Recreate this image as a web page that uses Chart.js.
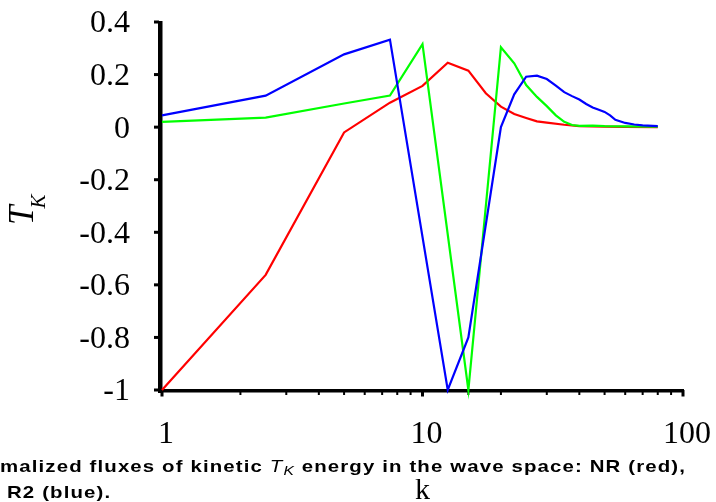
<!DOCTYPE html>
<html>
<head>
<meta charset="utf-8">
<script src="https://cdn.jsdelivr.net/npm/chart.js@4"></script>
<style>
  html, body { margin: 0; padding: 0; background: #fff; }
  canvas { display: block; }
</style>
</head>
<body>
<canvas id="canvas" width="716" height="502"></canvas>
<script>
// normalized kinetic energy flux T_K against wavenumber k, one pair of arrays per run
const redK = [1, 2.5, 5, 7.5, 10, 12.5, 15, 17.5, 20, 22.5, 25, 27.5, 30, 35, 40, 50, 60, 80];
const redT = [-1.0, -0.562, -0.02, 0.093, 0.157, 0.245, 0.215, 0.129, 0.078, 0.05, 0.035, 0.022, 0.017, 0.009, 0.004, 0.002, 0.001, 0.0];

const greenK = [1, 2.5, 5, 7.5, 10, 15, 20, 22.5, 25, 27.5, 30, 32.5, 35, 37.5, 40, 45, 50, 60, 80];
const greenT = [0.02, 0.036, 0.09, 0.12, 0.316, -1.0, 0.304, 0.243, 0.16, 0.115, 0.08, 0.045, 0.02, 0.008, 0.005, 0.006, 0.004, 0.003, 0.002];

const blueK = [1, 2.5, 5, 7.5, 12.5, 15, 20, 22.5, 25, 27.5, 30, 32.5, 35, 37.5, 40, 42.5, 45, 47.5, 50, 52.5, 55, 60, 65, 70, 80];
const blueT = [0.045, 0.12, 0.277, 0.333, -1.0, -0.8, 0.0, 0.125, 0.192, 0.196, 0.183, 0.158, 0.133, 0.118, 0.105, 0.088, 0.075, 0.066, 0.058, 0.045, 0.028, 0.016, 0.01, 0.007, 0.004];

const yTicks = [0.4, 0.2, 0, -0.2, -0.4, -0.6, -0.8, -1];
const xLabelTicks = [1, 10, 100];

const captionLine1 = ['malized fluxes of kinetic ', 'T', 'K', ' energy in the wave space: NR (red),'];
const captionLine2 = 'R2 (blue).';

const points = (ks, ts) => ks.map((k, i) => ({ x: k, y: ts[i] }));
const isDecade = v => Math.abs(Math.log10(v) - Math.round(Math.log10(v))) < 1e-9;

const serif = '"Liberation Serif", "Times New Roman", serif';
const sans = '"Liberation Sans", Arial, sans-serif';

// axis lines and tick marks, drawn under the curves
const axesPlugin = {
  id: 'axes',
  beforeDatasetsDraw(chart) {
    const { ctx, chartArea: a, scales: { x, y } } = chart;
    ctx.save();
    ctx.fillStyle = '#000';
    ctx.fillRect(a.left - 4, a.top - 1, 4.5, a.bottom - a.top + 4);
    ctx.fillRect(a.left - 4, a.bottom - 1, a.right - a.left + 5, 3.5);
    yTicks.forEach(v => {
      const py = y.getPixelForValue(v);
      ctx.fillRect(a.left - 8, py - 1.5, 5, 3);
    });
    x.ticks.forEach(t => {
      const px = x.getPixelForValue(t.value);
      if (isDecade(t.value)) ctx.fillRect(px - 1.5, a.bottom, 3, 6.5);
      else ctx.fillRect(px - 1, a.bottom, 2, 5);
    });
    ctx.restore();
  }
};

// axis titles and the caption text under the plot
const textPlugin = {
  id: 'texts',
  afterDraw(chart) {
    const { ctx, chartArea: a } = chart;
    ctx.save();
    ctx.fillStyle = '#000';
    ctx.textBaseline = 'alphabetic';
    ctx.textAlign = 'left';

    // y title T_K, rotated
    ctx.save();
    ctx.translate(33, 225);
    ctx.rotate(-Math.PI / 2);
    ctx.font = 'italic 35px ' + serif;
    ctx.fillText('T', 0, 0);
    const wT = ctx.measureText('T').width;
    ctx.font = 'italic 21px ' + serif;
    ctx.fillText('K', wT - 3, 12);
    ctx.restore();

    // x title
    ctx.font = '30px ' + serif;
    ctx.textAlign = 'center';
    ctx.fillText('k', (a.left + a.right) / 2, 499);
    ctx.textAlign = 'left';

    // caption: widened glyphs, then spread to its line width
    const hs = 1.2;
    const fonts = ['bold 17px ' + sans, 'italic 17px ' + sans, 'italic 13px ' + sans, 'bold 17px ' + sans];
    const shifts = [0, 0, 3, 0];
    let natural = 0, count = 0;
    captionLine1.forEach((s, i) => {
      ctx.font = fonts[i];
      natural += ctx.measureText(s).width * hs;
      count += s.length;
    });
    const sp = (686 - natural) / count;
    const put = (ch, px, py) => {
      ctx.save();
      ctx.translate(px, py);
      ctx.scale(hs, 1);
      ctx.fillText(ch, 0, 0);
      ctx.restore();
      return ctx.measureText(ch).width * hs + sp;
    };
    let cx = 0;
    captionLine1.forEach((s, i) => {
      ctx.font = fonts[i];
      for (const ch of s) cx += put(ch, cx, 472 + shifts[i]);
    });
    ctx.font = fonts[0];
    cx = 7;
    for (const ch of captionLine2) cx += put(ch, cx, 498);
    ctx.restore();
  }
};

const ctx = document.getElementById('canvas').getContext('2d');
new Chart(ctx, {
  type: 'line',
  data: {
    datasets: [
      { label: 'R2', data: points(blueK, blueT), borderColor: '#0000ff' },
      { label: 'R1', data: points(greenK, greenT), borderColor: '#00ff00' },
      { label: 'NR', data: points(redK, redT), borderColor: '#ff0000' }
    ]
  },
  options: {
    responsive: false,
    animation: false,
    datasets: {
      line: { borderWidth: 2.2, pointRadius: 0, tension: 0, fill: false, clip: false, borderJoinStyle: 'miter' }
    },
    layout: { padding: { top: 22, right: 33, left: 0, bottom: 0 } },
    plugins: { legend: { display: false }, tooltip: { enabled: false } },
    scales: {
      x: {
        type: 'logarithmic',
        min: 1,
        max: 100,
        grid: { display: false, drawTicks: false },
        border: { display: false },
        ticks: {
          autoSkip: false,
          maxRotation: 0,
          padding: 25,
          labelOffset: 4,
          color: '#000',
          font: { family: serif, size: 32 },
          callback: v => (xLabelTicks.some(t => Math.abs(t - v) < 1e-9) ? String(v) : '')
        },
        afterFit: s => { s.height = 112; s.paddingLeft = 0; s.paddingRight = 0; }
      },
      y: {
        min: -1,
        max: 0.4,
        afterBuildTicks: s => { s.ticks = yTicks.map(v => ({ value: v })); },
        grid: { display: false, drawTicks: false },
        border: { display: false },
        ticks: {
          padding: 32,
          labelOffset: 2,
          color: '#000',
          font: { family: serif, size: 32 },
          callback: v => String(v)
        },
        afterFit: s => { s.width = 162; s.paddingTop = 0; s.paddingBottom = 0; }
      }
    }
  },
  plugins: [axesPlugin, textPlugin]
});
</script>
</body>
</html>
